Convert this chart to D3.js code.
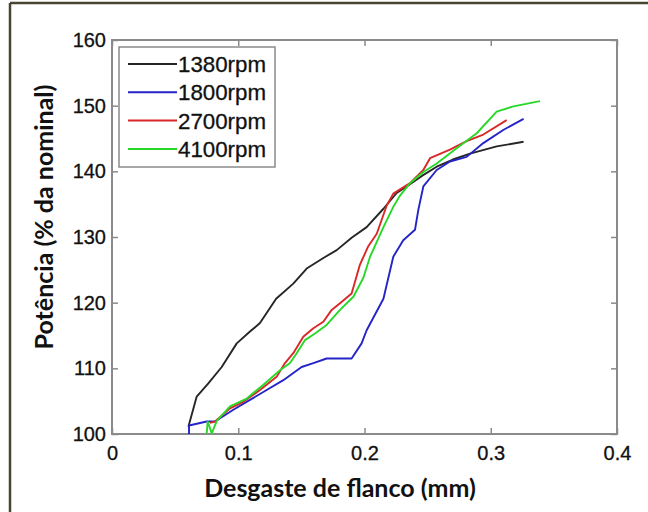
<!DOCTYPE html>
<html>
<head>
<script src="https://d3js.org/d3.v7.min.js"></script>
<style type="text/css">
body { margin:0; background:#fff; }
svg { display:block; }
.tick text { font-family: "Liberation Sans", Arial, sans-serif; font-size:20px; fill:#111; stroke:#111; stroke-width:0.3px; }
.title { font-family: Lato, "Open Sans", sans-serif; font-weight:bold; font-size:25px; fill:#111; }
</style>
</head>
<body>
<svg id="chart"></svg>
<script>
// curve data (wear mm, power %)
var s1380 = [[0.0605,101.1],[0.0671,105.7],[0.0763,107.7],[0.0869,110.2],[0.0988,113.8],[0.1093,115.6],[0.1172,116.9],
  [0.1300,120.6],[0.1436,122.9],[0.1542,125.2],[0.1674,126.8],[0.178,128.0],[0.1898,129.9],[0.2017,131.5],[0.215,134.3],
  [0.2255,136.7],[0.2334,137.7],[0.2455,139.3],[0.2572,140.7],[0.2700,141.8],[0.2836,142.7],[0.3047,143.8],[0.326,144.5]];
var s1800 = [[0.061,100.0],[0.061,101.3],[0.075,101.9],[0.0816,101.9],[0.0961,103.7],[0.1093,105.2],[0.1225,106.7],
  [0.1357,108.2],[0.1502,110.2],[0.1595,110.8],[0.170,111.5],[0.1898,111.5],[0.1977,113.8],[0.2017,115.8],[0.215,120.6],
  [0.2228,127.0],[0.2307,129.5],[0.240,131.1],[0.2426,134.1],[0.2466,137.7],[0.2572,140.2],[0.2677,141.5],[0.2809,142.2],
  [0.2941,144.3],[0.3099,146.3],[0.326,148.0]];
var s2700 = [[0.0776,101.7],[0.0816,101.9],[0.0935,103.9],[0.104,104.9],[0.1172,106.7],[0.1304,108.7],[0.137,110.8],
  [0.1436,112.3],[0.1515,114.8],[0.1595,116.1],[0.1674,117.1],[0.174,118.9],[0.1806,119.9],[0.1898,121.4],[0.1964,125.8],
  [0.203,128.6],[0.2097,130.5],[0.2176,134.8],[0.2228,136.6],[0.2361,138.2],[0.2466,140.2],[0.2519,142.0],[0.2677,143.3],
  [0.2809,144.6],[0.2941,145.6],[0.3126,147.8]];
var s4100 = [[0.075,100.1],[0.0758,101.9],[0.079,100.1],[0.083,102.0],[0.0935,104.2],[0.1067,105.4],[0.1199,107.5],
  [0.1331,109.7],[0.141,110.8],[0.1463,112.3],[0.1529,114.3],[0.1608,115.3],[0.170,116.6],[0.1806,118.9],[0.1912,120.9],
  [0.1991,123.8],[0.2044,127.0],[0.215,131.5],[0.2228,134.6],[0.2281,136.3],[0.2361,138.2],[0.2466,139.9],[0.2572,141.2],
  [0.273,143.5],[0.2889,145.8],[0.3047,149.1],[0.318,149.9],[0.339,150.7]];

var labels = ["1380rpm","1800rpm","2700rpm","4100rpm"];
var colors = ["#262626","#2424c8","#d82828","#28d828"];
var xTicks = [0, 0.1, 0.2, 0.3, 0.4];
var yTicks = [100, 110, 120, 130, 140, 150, 160];
var series = [s1380, s1800, s2700, s4100];

var width = 648, height = 512;
var svg = d3.select("#chart").attr("width", width).attr("height", height);

// outer frame (top and left only, like the scan)
svg.append("line").attr("x1", 10).attr("y1", 3).attr("x2", width).attr("y2", 3)
  .attr("stroke", "#4a4532").attr("stroke-width", 2.5);
svg.append("line").attr("x1", 10).attr("y1", 3).attr("x2", 10).attr("y2", height)
  .attr("stroke", "#4a4532").attr("stroke-width", 2.5);

var pLeft = 112, pRight = 617, pTop = 40, pBottom = 434;
var x = d3.scaleLinear().domain([0, 0.4]).range([pLeft, pRight]);
var y = d3.scaleLinear().domain([100, 160]).range([pBottom, pTop]);

var axisColor = "#8a8a8a";
function styleAxis(g) {
  g.select(".domain").remove();
  g.selectAll(".tick line").attr("stroke", axisColor).attr("stroke-width", 1.5);
}

svg.append("g").attr("transform", "translate(0," + pBottom + ")")
  .call(d3.axisBottom(x).tickValues(xTicks).tickSize(-6).tickPadding(12).tickFormat(d3.format("")))
  .call(styleAxis);
svg.append("g").attr("transform", "translate(0," + pTop + ")")
  .call(d3.axisTop(x).tickValues(xTicks).tickSize(-6).tickFormat(""))
  .call(styleAxis);
svg.append("g").attr("transform", "translate(" + pLeft + ",0)")
  .call(d3.axisLeft(y).tickValues(yTicks).tickSize(-6).tickPadding(6))
  .call(styleAxis);
svg.append("g").attr("transform", "translate(" + pRight + ",0)")
  .call(d3.axisRight(y).tickValues(yTicks).tickSize(-6).tickFormat(""))
  .call(styleAxis);

svg.append("rect").attr("x", pLeft).attr("y", pTop).attr("width", pRight - pLeft).attr("height", pBottom - pTop)
  .attr("fill", "none").attr("stroke", axisColor).attr("stroke-width", 2);

var line = d3.line().x(function(d){ return x(d[0]); }).y(function(d){ return y(d[1]); });
svg.append("g").selectAll("path")
  .data(series)
  .enter().append("path")
  .attr("d", line)
  .attr("fill", "none")
  .attr("stroke", function(d, i){ return colors[i]; })
  .attr("stroke-width", 1.9)
  .attr("stroke-linejoin", "round");

// legend
var lg = svg.append("g").attr("transform", "translate(119,47)");
lg.append("rect").attr("width", 156).attr("height", 120)
  .attr("fill", "#fff").attr("stroke", axisColor).attr("stroke-width", 1.5);
var items = lg.selectAll(".item").data(labels).enter().append("g")
  .attr("transform", function(d, i){ return "translate(0," + (17 + i * 28.3) + ")"; });
items.append("line").attr("x1", 9).attr("x2", 58).attr("y1", 0).attr("y2", 0)
  .attr("stroke", function(d, i){ return colors[i]; }).attr("stroke-width", 2);
items.append("text").attr("x", 59).attr("dy", "0.36em")
  .attr("font-family", "'Liberation Sans', Arial, sans-serif").attr("font-size", 22)
  .attr("textLength", 88).attr("lengthAdjust", "spacingAndGlyphs")
  .attr("fill", "#111").attr("stroke", "#111").attr("stroke-width", 0.3)
  .text(function(d){ return d; });

// axis titles
svg.append("text").attr("class", "title").attr("text-anchor", "middle")
  .attr("x", 340).attr("y", 497).text("Desgaste de flanco (mm)");
svg.append("text").attr("class", "title").attr("text-anchor", "middle")
  .attr("transform", "translate(53,217) rotate(-90)").text("Potência (% da nominal)");
</script>
</body>
</html>
